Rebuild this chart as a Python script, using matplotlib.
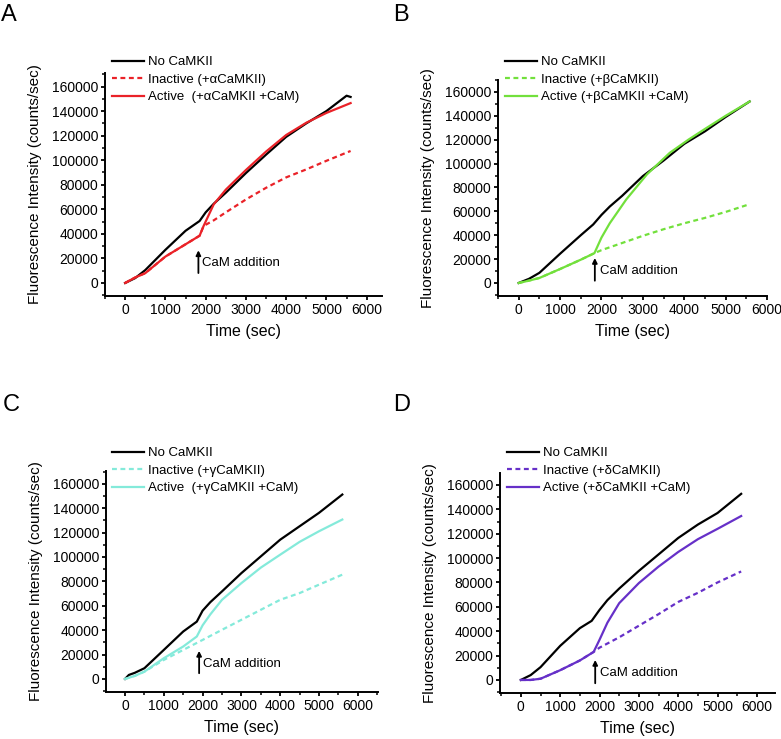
import matplotlib
matplotlib.use('Agg')
import matplotlib.pyplot as plt
from matplotlib.ticker import MultipleLocator

plt.rcParams['font.family'] = ['Liberation Sans', 'DejaVu Sans']

W, H = 781, 739

# ---- data (time in sec, fluorescence in counts/sec) ----
# panel A (alpha)
a_t_black = [0, 250, 500, 1000, 1500, 1850, 2000, 2200, 2500, 3000, 3500, 4000, 4500, 5000, 5500, 5600]
a_black = [0, 4000, 10500, 27000, 42500, 50500, 57500, 64500, 73500, 89500, 104500, 119000, 130000, 140000, 152500, 151500]
a_t_inact = [0, 250, 500, 1000, 1500, 1850, 1950, 2200, 2500, 3000, 3500, 4000, 4500, 5000, 5600]
a_inact = [0, 4500, 8000, 21500, 31500, 38500, 46500, 51000, 57500, 68000, 77500, 86000, 92500, 99500, 107500]
a_t_act = [0, 250, 500, 1000, 1500, 1850, 1950, 2200, 2500, 3000, 3500, 4000, 4500, 5000, 5600]
a_act = [0, 4500, 8000, 21500, 31500, 38500, 46500, 64000, 76000, 92000, 107000, 120500, 130500, 138500, 146500]

# panel B (beta)
b_t_black = [0, 250, 500, 1000, 1500, 1800, 2000, 2200, 2500, 3000, 3500, 4000, 4500, 5000, 5580]
b_black = [0, 3500, 8500, 24500, 40000, 49000, 57000, 64000, 73000, 89500, 102500, 116500, 127000, 139000, 152000]
b_t_inact = [0, 250, 500, 1000, 1500, 1830, 2000, 2500, 3000, 3500, 4000, 4500, 5000, 5580]
b_inact = [0, 2000, 4200, 11700, 19500, 25000, 27500, 33500, 39500, 45000, 50000, 54500, 59500, 66000]
b_t_act = [0, 250, 500, 1000, 1500, 1830, 2000, 2200, 2600, 3100, 3650, 4100, 4500, 5000, 5580]
b_act = [0, 2000, 4200, 11700, 19500, 25000, 38000, 50000, 70000, 91000, 109000, 120000, 129000, 140000, 152000]

# panel C (gamma)
c_t_black = [0, 100, 250, 500, 1000, 1500, 1850, 2000, 2200, 2500, 3000, 3500, 4000, 4500, 5000, 5600]
c_black = [0, 3300, 5000, 8800, 23800, 38900, 47000, 56000, 63000, 71800, 86800, 100500, 114200, 125200, 136200, 151200]
c_t_inact = [0, 250, 500, 1000, 1500, 2000, 2500, 3000, 3500, 4000, 4500, 5000, 5600]
c_inact = [0, 2500, 6000, 15600, 23800, 32000, 40300, 48500, 56700, 64900, 70400, 77300, 85500]
c_t_act = [0, 250, 500, 1000, 1500, 1850, 2000, 2200, 2500, 3000, 3500, 4000, 4500, 5000, 5600]
c_act = [0, 2500, 6000, 17000, 26600, 34800, 44000, 53000, 64900, 78600, 91300, 101900, 112400, 121100, 130700]

# panel D (delta)
d_t_black = [0, 250, 500, 1000, 1500, 1800, 2000, 2200, 2500, 3000, 3500, 4000, 4500, 5000, 5600]
d_black = [0, 4000, 10500, 28000, 42500, 48500, 57500, 65500, 75000, 89500, 103000, 116500, 127500, 137000, 152700]
d_t_inact = [0, 250, 500, 1000, 1500, 1850, 2000, 2500, 3000, 3500, 4000, 4500, 5000, 5600]
d_inact = [0, 0, 1000, 8000, 16000, 23000, 26500, 35000, 44500, 54000, 64000, 71500, 80000, 89000]
d_t_act = [0, 250, 500, 1000, 1500, 1850, 2000, 2200, 2500, 3000, 3500, 4000, 4500, 5000, 5600]
d_act = [0, 0, 1000, 8000, 16000, 23000, 33000, 47000, 63000, 79500, 93000, 105000, 115500, 124000, 134500]

panel_letters = ['A', 'B', 'C', 'D']
inactive_labels = ['Inactive (+\u03b1CaMKII)', 'Inactive (+\u03b2CaMKII)',
                   'Inactive (+\u03b3CaMKII)', 'Inactive (+\u03b4CaMKII)']
active_labels = ['Active  (+\u03b1CaMKII +CaM)', 'Active (+\u03b2CaMKII +CaM)',
                 'Active  (+\u03b3CaMKII +CaM)', 'Active (+\u03b4CaMKII +CaM)']
colors = ['#ea2228', '#72e03c', '#84eada', '#6630c8']

# ---- layout in pixels ----
# axes box (left, top, right, bottom) px, xlim, ylim
boxes = [
    ((105, 73, 382, 296), (-500, 6380), (-10600, 171000)),
    ((498, 80, 767, 296), (-500, 6000), (-10900, 170000)),
    ((106, 471, 378, 692), (-490, 6520), (-10700, 170500)),
    ((500, 473, 775, 693), (-530, 6460), (-10700, 169800)),
]
letter_pos = [(9, 15), (401, 15), (11, 405), (402, 405)]
legend_pos = [(112, 56), (505, 56), (112, 447), (507, 447)]
# arrow x, arrow base y, arrow tip y, text x, text y
arrows = [
    (1820, 8100, 26600, 1920, 16300),
    (1840, 1900, 20900, 1963, 9700),
    (1910, 4700, 23000, 2020, 12000),
    (1890, -2700, 16400, 2017, 5500),
]

series = [
    (a_t_black, a_black, a_t_inact, a_inact, a_t_act, a_act),
    (b_t_black, b_black, b_t_inact, b_inact, b_t_act, b_act),
    (c_t_black, c_black, c_t_inact, c_inact, c_t_act, c_act),
    (d_t_black, d_black, d_t_inact, d_inact, d_t_act, d_act),
]


def draw_panel(fig, i):
    (l, t, r, b), xlim, ylim = boxes[i]
    ax = fig.add_axes([l / W, 1 - b / H, (r - l) / W, (b - t) / H])
    tb, yb, ti, yi, ta, ya = series[i]
    col = colors[i]

    ax.plot(tb, yb, color='black', lw=1.6, label='No CaMKII')
    ax.plot(ti, yi, color=col, lw=1.6, linestyle=(0, (2.2, 1.6)),
            label=inactive_labels[i])
    ax.plot(ta, ya, color=col, lw=1.6, label=active_labels[i])

    ax.set_xlim(*xlim)
    ax.set_ylim(*ylim)
    ax.xaxis.set_minor_locator(MultipleLocator(500))
    ax.yaxis.set_minor_locator(MultipleLocator(10000))
    ax.set_yticks(range(0, 160001, 20000))
    ax.set_xticks(range(0, 6001, 1000))

    for s in ['top', 'right']:
        ax.spines[s].set_visible(False)
    for s in ['left', 'bottom']:
        ax.spines[s].set_linewidth(1.4)
    ax.tick_params(which='major', direction='out', length=3, width=1.3,
                   labelsize=10, pad=2)
    ax.tick_params(which='minor', direction='out', length=2, width=1.1)

    ax.set_xlabel('Time (sec)', fontsize=11.5)
    ax.set_ylabel('Fluorescence Intensity (counts/sec)', fontsize=11)
    ax.xaxis.set_label_coords(0.5, -28 / (b - t))
    ax.yaxis.set_label_coords(-63 / (r - l), 0.5)

    ax_x, yb0, yt0, tx, ty = arrows[i]
    ax.annotate('', xy=(ax_x, yt0), xytext=(ax_x, yb0),
                arrowprops=dict(arrowstyle='-|>', color='black', lw=1.3,
                                mutation_scale=7, shrinkA=0, shrinkB=0))
    ax.text(tx, ty, 'CaM addition', fontsize=9.5, va='center', ha='left')

    lx, ly = legend_pos[i]
    ax.legend(loc='upper left', bbox_to_anchor=(lx / W, 1 - ly / H),
              bbox_transform=fig.transFigure, frameon=False, fontsize=9.5,
              handlelength=2.4, handletextpad=0.3, labelspacing=0.4,
              borderpad=0, borderaxespad=0)

    px, py = letter_pos[i]
    fig.text(px / W, 1 - py / H, panel_letters[i], fontsize=17,
             ha='center', va='center')


def main():
    fig = plt.figure(figsize=(W / 100, H / 100), dpi=100)
    for i in range(4):
        draw_panel(fig, i)
    fig.savefig('out.png', dpi=100)


if __name__ == '__main__':
    main()
